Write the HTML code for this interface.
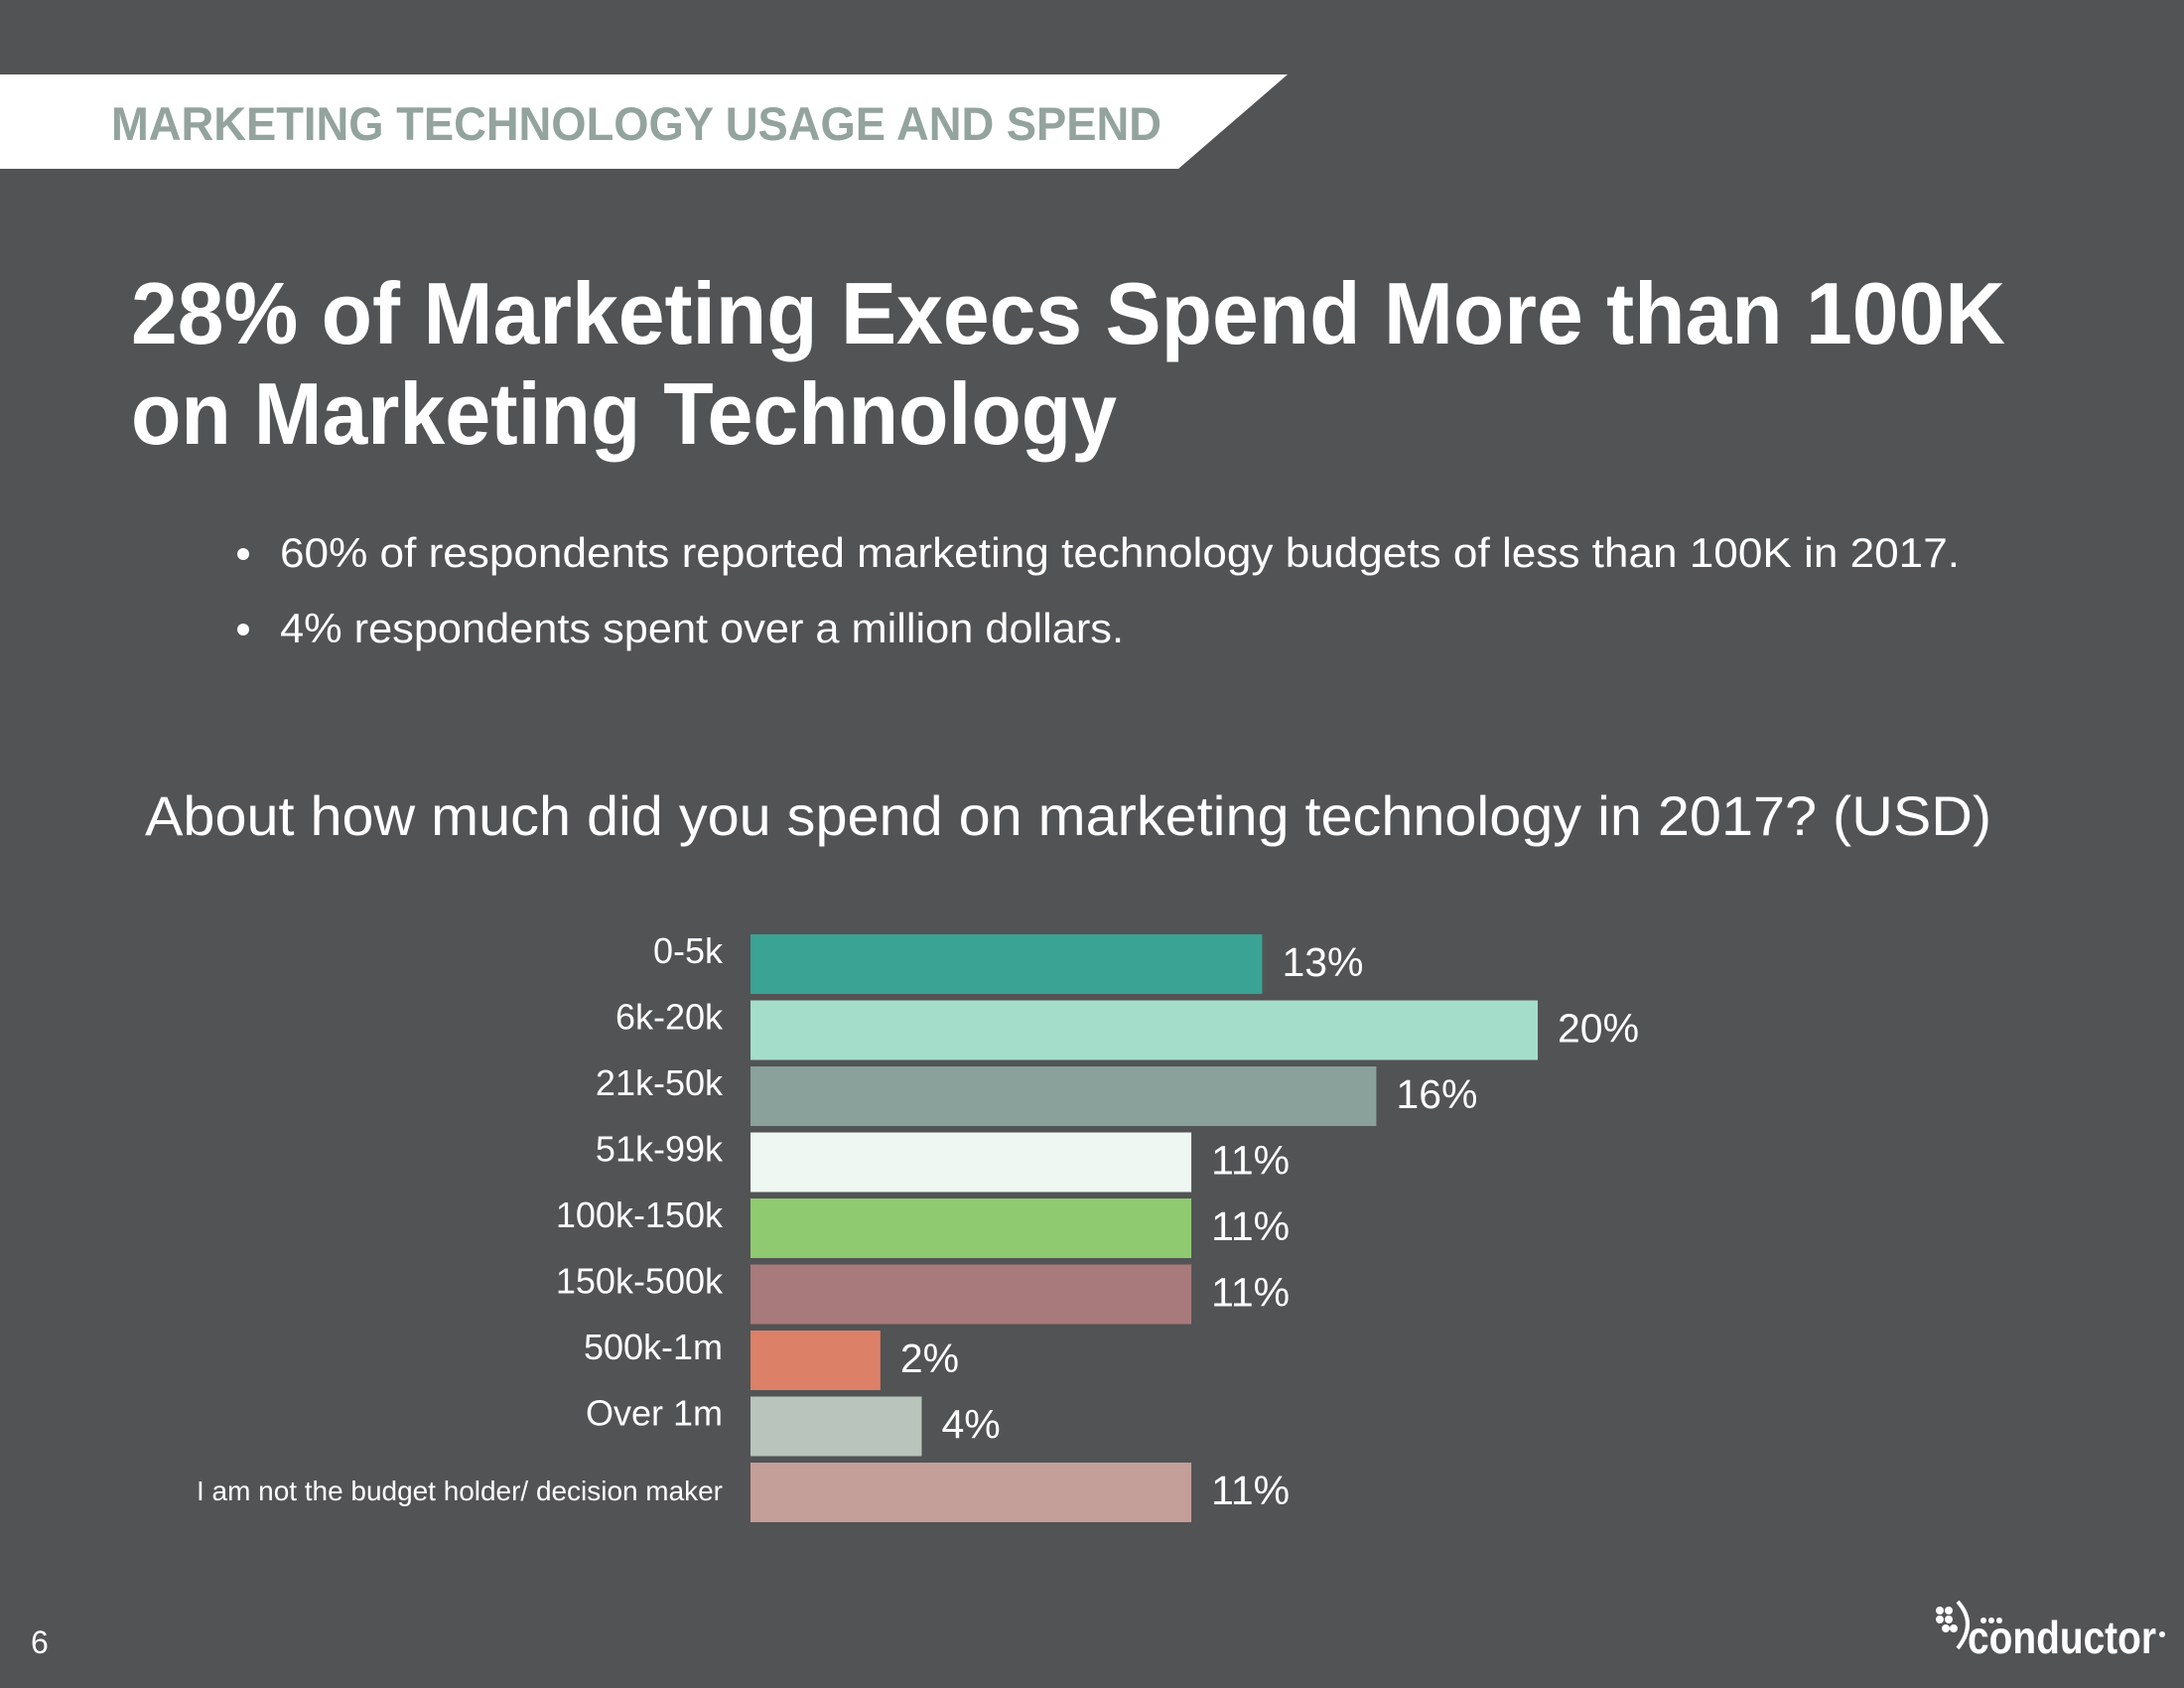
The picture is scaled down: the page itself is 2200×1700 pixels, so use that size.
<!DOCTYPE html>
<html><head><meta charset="utf-8"><style>
html,body{margin:0;padding:0;background:#525355;}
svg{display:block;font-family:"Liberation Sans",sans-serif;}
</style></head><body>
<svg width="2200" height="1700" viewBox="0 0 2200 1700">
<rect width="2200" height="1700" fill="#525355"/>
<polygon points="0,75 1297,75 1187,170 0,170" fill="#ffffff"/>
<text x="112" y="141" font-size="47" font-weight="bold" fill="#93a39d" textLength="1058" lengthAdjust="spacingAndGlyphs">MARKETING TECHNOLOGY USAGE AND SPEND</text>
<text x="132" y="346" font-size="88" font-weight="bold" fill="#ffffff" textLength="1888" lengthAdjust="spacingAndGlyphs">28% of Marketing Execs Spend More than 100K</text>
<text x="132" y="447" font-size="88" font-weight="bold" fill="#ffffff" textLength="993" lengthAdjust="spacingAndGlyphs">on Marketing Technology</text>
<circle cx="245" cy="558" r="6" fill="#fff"/>
<text x="282" y="571" font-size="42" fill="#ffffff" textLength="1692" lengthAdjust="spacingAndGlyphs">60% of respondents reported marketing technology budgets of less than 100K in 2017.</text>
<circle cx="245" cy="634" r="6" fill="#fff"/>
<text x="282" y="647" font-size="42" fill="#ffffff" textLength="850" lengthAdjust="spacingAndGlyphs">4% respondents spent over a million dollars.</text>
<text x="146" y="841" font-size="56" fill="#ffffff" textLength="1860" lengthAdjust="spacingAndGlyphs">About how much did you spend on marketing technology in 2017? (USD)</text>
<g id="chart"></g>
<text x="31" y="1665" font-size="32" fill="#ffffff">6</text>
<g>
<g fill="#fff">
<circle cx="1954" cy="1622" r="4"/><circle cx="1963" cy="1622" r="4"/><circle cx="1954" cy="1631" r="4"/><circle cx="1963" cy="1631" r="4"/>
<circle cx="1960" cy="1640" r="4"/><circle cx="1968" cy="1640" r="4"/>
<circle cx="1998" cy="1632" r="3"/><circle cx="2006" cy="1632" r="3"/><circle cx="2014" cy="1632" r="3"/>
</g>
<path d="M1972,1613 Q1992,1635 1972,1660" stroke="#fff" stroke-width="4" fill="none"/>
<text x="1982" y="1665" font-size="46" font-weight="bold" fill="#ffffff" textLength="190" lengthAdjust="spacingAndGlyphs">conductor</text>
<circle cx="2178" cy="1646" r="3" fill="#fff"/>
</g>
</svg>
<script>
const categories = ["0-5k","6k-20k","21k-50k","51k-99k","100k-150k","150k-500k","500k-1m","Over 1m","I am not the budget holder/ decision maker"];
const values = [13.0,20.0,15.9,11.2,11.2,11.2,3.3,4.35,11.2];
const valueLabels = ["13%","20%","16%","11%","11%","11%","2%","4%","11%"];
const colors = ["#3aa394","#a5ddcb","#8aa09a","#eef7f1","#8fca70","#a97a7b","#dc8068","#b8c4bc","#c49e99"];
const NS = "http://www.w3.org/2000/svg";
const g = document.getElementById("chart");
const x0 = 756, pxPer = 39.65;
const xScale = v => x0 + v * pxPer;
const yTop = i => 941 + i * 66.5;
const barH = 60;
categories.forEach((c, i) => {
  const r = document.createElementNS(NS, "rect");
  r.setAttribute("x", x0);
  r.setAttribute("y", yTop(i));
  r.setAttribute("width", xScale(values[i]) - x0);
  r.setAttribute("height", barH);
  r.setAttribute("fill", colors[i]);
  
  
  g.appendChild(r);
  const t = document.createElementNS(NS, "text");
  t.setAttribute("x", 728);
  const last = i === categories.length - 1;
  t.setAttribute("y", yTop(i) + (last ? 38 : 29));
  t.setAttribute("text-anchor", "end");
  t.setAttribute("font-size", last ? 28 : 36);
  t.setAttribute("fill", "#ffffff");
  if (last) { t.setAttribute("textLength", 530); t.setAttribute("lengthAdjust", "spacingAndGlyphs"); }
  t.textContent = c;
  
  
  g.appendChild(t);
  const v = document.createElementNS(NS, "text");
  v.setAttribute("x", xScale(values[i]) + 20);
  v.setAttribute("y", yTop(i) + 42);
  v.setAttribute("font-size", 41);
  v.setAttribute("fill", "#ffffff");
  v.textContent = valueLabels[i];
  
  
  g.appendChild(v);
});
</script>
</body></html>
